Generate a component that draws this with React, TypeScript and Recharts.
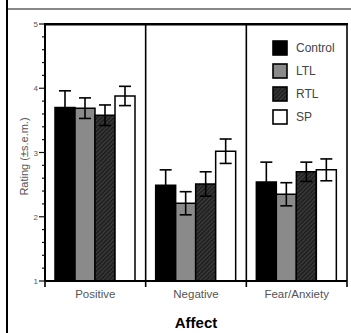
import { BarChart, Bar, XAxis, YAxis, ErrorBar, CartesianGrid } from "recharts";

const categories = ["Positive", "Negative", "Fear/Anxiety"];
const control = [3.7, 2.49, 2.54];
const controlErr = [0.26, 0.24, 0.31];
const ltl = [3.69, 2.21, 2.35];
const ltlErr = [0.16, 0.18, 0.18];
const rtl = [3.58, 2.51, 2.7];
const rtlErr = [0.16, 0.19, 0.15];
const sp = [3.88, 3.02, 2.73];
const spErr = [0.15, 0.19, 0.17];

const yTicks = [1, 1.2, 1.4, 1.6, 1.8, 2, 2.2, 2.4, 2.6, 2.8, 3, 3.2, 3.4, 3.6, 3.8, 4, 4.2, 4.4, 4.6, 4.8, 5];

const data = categories.map((name, i) => ({
    name,
    control: control[i],
    controlErr: controlErr[i],
    ltl: ltl[i],
    ltlErr: ltlErr[i],
    rtl: rtl[i],
    rtlErr: rtlErr[i],
    sp: sp[i],
    spErr: spErr[i],
}));

const legendItems = [
    { label: "Control", fill: "#000" },
    { label: "LTL", fill: "#8a8a8a" },
    { label: "RTL", fill: "url(#hatch)" },
    { label: "SP", fill: "#fff" },
];

const W = 351;
const H = 333;
const TOP = 24;
const RIGHT = 4;
const Y_AXIS_W = 45;
const X_AXIS_H = 52;
const TICK_LEN = 6;

const font = "'Liberation Sans', Arial, Helvetica, sans-serif";

const scaleOf = (axis: any, v: any) => {
    const s = axis && axis.scale;
    if (typeof s === "function") return s(v);
    if (s && typeof s.map === "function") return s.map(v);
    return undefined;
};

const YTick = (props: any) => {
    const { x, y, payload } = props;
    const major = Number.isInteger(payload.value);
    return (
        <g>
            <line x1={x - (major ? 6 : 3)} x2={x} y1={y} y2={y} stroke="#111" strokeWidth={1.2} />
            {major && (
                <text x={x - 7} y={y} dy={3} textAnchor="end" fontSize={8} fill="#555" fontFamily={font}>
                    {payload.value}
                </text>
            )}
        </g>
    );
};

export default function App() {
    return (
        <div style={{ position: "absolute", left: 0, top: 0, width: W, height: H, background: "#fff", fontFamily: font }}>
            {/* outer frame */}
            <div style={{ position: "absolute", left: 6, top: 0, width: 2, height: H, background: "#000" }} />
            <div style={{ position: "absolute", left: 8, top: 8, width: W - 8, height: 2, background: "#888" }} />

            <BarChart
                width={W}
                height={H}
                data={data}
                margin={{ top: TOP, right: RIGHT, left: 0, bottom: 0 }}
                barCategoryGap={10}
                barGap={0}
                style={{ position: "absolute", left: 0, top: 0 }}
            >
                <defs>
                    <pattern id="hatch" width="3" height="3" patternUnits="userSpaceOnUse" patternTransform="rotate(45)">
                        <rect width="3" height="3" fill="#222" />
                        <line x1="0" y1="0" x2="0" y2="3" stroke="#5a5a5a" strokeWidth="1" />
                    </pattern>
                </defs>
                {/* panel dividers, running a tick length below the axis */}
                <CartesianGrid
                    stroke="#000"
                    strokeWidth={1.6}
                    horizontal={false}
                    y={TOP}
                    height={H - TOP - X_AXIS_H + TICK_LEN}
                    verticalCoordinatesGenerator={({ xAxis, offset }: any) => {
                        const pts = categories.map((c) => scaleOf(xAxis, c));
                        if (pts.some((p) => typeof p !== "number")) return [];
                        return [...pts, offset.left + offset.width];
                    }}
                />
                {/* top edge of the plot box */}
                <CartesianGrid
                    stroke="#000"
                    strokeWidth={2}
                    vertical={false}
                    horizontalPoints={[TOP + 0.5]}
                />
                <XAxis
                    dataKey="name"
                    height={X_AXIS_H}
                    interval={0}
                    tickLine={false}
                    tickSize={0}
                    tickMargin={9}
                    axisLine={{ stroke: "#000", strokeWidth: 2 }}
                    tick={{ fontSize: 11.5, fill: "#555", fontFamily: font }}
                    label={{ value: "Affect", position: "insideBottom", offset: 5, fontSize: 15, fontWeight: "bold", fill: "#000", fontFamily: font }}
                />
                <YAxis
                    domain={[1, 5]}
                    ticks={yTicks}
                    interval={0}
                    width={Y_AXIS_W}
                    axisLine={{ stroke: "#000", strokeWidth: 2 }}
                    tickLine={false}
                    tickSize={0}
                    tickMargin={0}
                    tick={<YTick />}
                    allowDataOverflow
                    label={{ value: "Rating (±s.e.m.)", angle: -90, position: "center", dx: 2, dy: 4, fontSize: 11, fill: "#555", fontFamily: font }}
                />
                <Bar dataKey="control" fill="#000" stroke="#000" strokeWidth={1.5} isAnimationActive={false}>
                    <ErrorBar dataKey="controlErr" width={6} stroke="#000" strokeWidth={1.6} direction="y" />
                </Bar>
                <Bar dataKey="ltl" fill="#8a8a8a" stroke="#000" strokeWidth={1.5} isAnimationActive={false}>
                    <ErrorBar dataKey="ltlErr" width={6} stroke="#000" strokeWidth={1.6} direction="y" />
                </Bar>
                <Bar dataKey="rtl" fill="url(#hatch)" stroke="#000" strokeWidth={1.5} isAnimationActive={false}>
                    <ErrorBar dataKey="rtlErr" width={6} stroke="#000" strokeWidth={1.6} direction="y" />
                </Bar>
                <Bar dataKey="sp" fill="#fff" stroke="#000" strokeWidth={1.5} isAnimationActive={false}>
                    <ErrorBar dataKey="spErr" width={6} stroke="#000" strokeWidth={1.6} direction="y" />
                </Bar>
            </BarChart>

            {/* top border of the plot box, drawn over the chart */}
            <div
                style={{
                    position: "absolute",
                    zIndex: 10,
                    left: Y_AXIS_W - 1,
                    top: TOP - 1,
                    width: W - RIGHT - Y_AXIS_W + 2,
                    height: 2,
                    background: "#000",
                }}
            />

            {/* legend */}
            <div style={{ position: "absolute", zIndex: 10, left: 272, top: 36.5 }}>
                {legendItems.map((item) => (
                    <div key={item.label} style={{ display: "flex", alignItems: "center", height: 23 }}>
                        <svg width={16} height={16} style={{ display: "block" }}>
                            <rect x={1} y={1} width={14} height={14} fill={item.fill} stroke="#000" strokeWidth={1.6} />
                        </svg>
                        <span style={{ marginLeft: 8, fontSize: 12, color: "#444", lineHeight: "16px" }}>{item.label}</span>
                    </div>
                ))}
            </div>
        </div>
    );
}
